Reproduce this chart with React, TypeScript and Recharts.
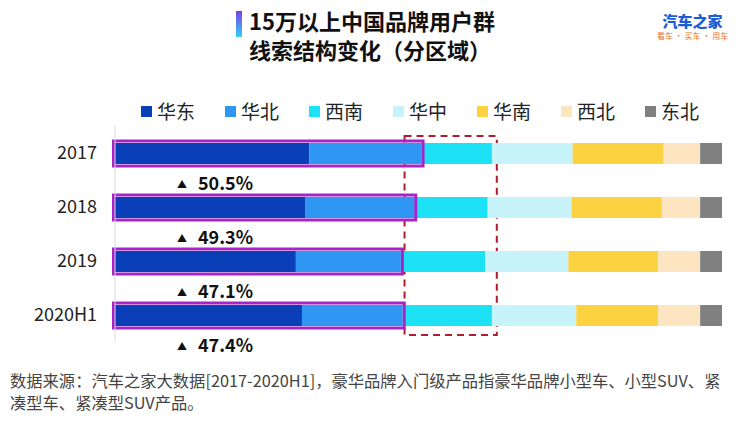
import React from 'react';
import { BarChart, Bar, XAxis, YAxis, ReferenceArea, LabelList } from 'recharts';

const FONT = '"Noto Sans CJK SC", "Noto Sans", sans-serif';

const years = ['2017', '2018', '2019', '2020H1'];
const regions = ['华东', '华北', '西南', '华中', '华南', '西北', '东北'];
const colors = ['#0b3fb7', '#3096f4', '#1de2f6', '#c6f4fa', '#fcd240', '#fde5c2', '#808080'];

// share of leads per region (%)
const huadong = [32.0, 31.3, 29.8, 30.8];
const huabei = [18.5, 18.0, 17.3, 16.6];
const xinan = [11.6, 12.1, 13.9, 14.7];
const huazhong = [13.3, 13.8, 13.7, 13.9];
const huanan = [15.0, 14.9, 14.8, 13.5];
const xibei = [6.0, 6.3, 6.9, 6.9];
const dongbei = [3.6, 3.6, 3.6, 3.6];

// dashed highlight around the 西南 band
const HIGHLIGHT_FROM = 47.7;
const HIGHLIGHT_TO = 62.9;

const PURPLE = '#a624c8';
const DASH_RED = '#b01c2e';

const data = years.map((year, i) => ({
  year,
  华东: huadong[i],
  华北: huabei[i],
  西南: xinan[i],
  华中: huazhong[i],
  华南: huanan[i],
  西北: xibei[i],
  东北: dongbei[i],
  north: (huadong[i] + huabei[i]).toFixed(1) + '%',
}));

// last segment: draws itself, then the purple frame around 华东+华北 on top
const LastSegment = (props: any) => {
  const { x, y, width, height, fill, payload } = props;
  const ppu = width / payload['东北'];
  const before = payload['华东'] + payload['华北'] + payload['西南'] + payload['华中'] + payload['华南'] + payload['西北'];
  const left = x - before * ppu;
  const right = left + (payload['华东'] + payload['华北']) * ppu;
  return (
    <g>
      <rect x={x} y={y} width={width} height={height} fill={fill} />
      <rect
        x={left - 1.5}
        y={y - 2}
        width={right - left + 3}
        height={height + 4}
        fill="none"
        stroke={PURPLE}
        strokeWidth={3}
      />
    </g>
  );
};

const ShareLabel = (props: any) => {
  const { x, y, height, value } = props;
  return (
    <g>
      <text x={x + 62} y={y + height + 24} fontSize={10} fill="#111" fontFamily={FONT}>▲</text>
      <text x={x + 83} y={y + height + 26} fontSize={18} fontWeight={700} fill="#111" fontFamily={FONT}>
        {value}
      </text>
    </g>
  );
};

const DashedBox = (props: any) => {
  const { x, y, width, height } = props;
  return (
    <rect
      x={x}
      y={y + 10}
      width={width}
      height={height - 17}
      fill="none"
      stroke={DASH_RED}
      strokeWidth={2}
      strokeDasharray="7 5"
    />
  );
};

export default function App() {
  return (
    <div style={{ position: 'absolute', left: 0, top: 0, width: 744, height: 422, background: '#fff', fontFamily: FONT, overflow: 'hidden' }}>
      {/* title */}
      <div style={{ position: 'absolute', left: 236, top: 11, width: 6, height: 26, background: 'linear-gradient(#7a3fe6, #35cff5)' }} />
      <div style={{ position: 'absolute', left: 249, top: 6, fontSize: 22, fontWeight: 700, color: '#111', lineHeight: '29px', whiteSpace: 'nowrap' }}>
        <div>15万以上中国品牌用户群</div>
        <div>线索结构变化（分区域）</div>
      </div>
      {/* logo */}
      <div style={{ position: 'absolute', left: 657, top: 11, textAlign: 'center', whiteSpace: 'nowrap' }}>
        <div style={{ fontSize: 15, fontWeight: 900, color: '#1a5bd6', lineHeight: '19px' }}>汽车之家</div>
        <div style={{ fontSize: 8, color: '#e8732a', lineHeight: '11px' }}>看车 · 买车 · 用车</div>
      </div>
      {/* legend */}
      <div style={{ position: 'absolute', left: 141, top: 98, display: 'flex', whiteSpace: 'nowrap' }}>
        {regions.map((r, i) => (
          <div key={r} style={{ width: 84, display: 'flex', alignItems: 'center', fontSize: 19, color: '#222', lineHeight: '26px' }}>
            <span style={{ display: 'inline-block', width: 11, height: 11, background: colors[i], marginRight: 5 }} />
            {r}
          </div>
        ))}
      </div>

      <div style={{ position: 'absolute', left: 0, top: 0 }}>
        <BarChart
          width={744}
          height={422}
          data={data}
          layout="vertical"
          margin={{ top: 126, right: 22, bottom: 80, left: 0 }}
          barSize={21}
        >
          <XAxis type="number" domain={[0, 100]} hide />
          <YAxis
            type="category"
            dataKey="year"
            width={115}
            axisLine={{ stroke: '#d9d9d9' }}
            tickLine={false}
            tickMargin={12}
            tick={{ fontSize: 18, fill: '#222', fontFamily: FONT }}
          />
          {regions.map((r, i) => (
            <Bar
              key={r}
              dataKey={r}
              stackId="a"
              fill={colors[i]}
              isAnimationActive={false}
              shape={i === regions.length - 1 ? LastSegment : undefined}
            >
              {i === 0 && <LabelList dataKey="north" content={ShareLabel} />}
            </Bar>
          ))}
          <ReferenceArea
            x1={HIGHLIGHT_FROM}
            x2={HIGHLIGHT_TO}
            ifOverflow="visible"
            shape={DashedBox}
          />
        </BarChart>
      </div>

      {/* footnote */}
      <div style={{ position: 'absolute', left: 10, top: 369, fontSize: 16.3, color: '#444', lineHeight: '22px', whiteSpace: 'nowrap' }}>
        <div>数据来源：汽车之家大数据[2017-2020H1]，豪华品牌入门级产品指豪华品牌小型车、小型SUV、紧</div>
        <div>凑型车、紧凑型SUV产品。</div>
      </div>
    </div>
  );
}
